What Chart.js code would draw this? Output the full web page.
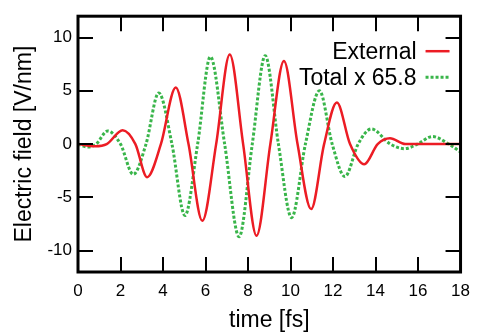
<!DOCTYPE html>
<html>
<head>
<meta charset="utf-8">
<script src="https://cdn.jsdelivr.net/npm/chart.js@4.4.1/dist/chart.umd.min.js"></script>
<style>
  html, body { margin: 0; padding: 0; background: #fff; }
  #wrap { width: 479px; height: 334px; }
</style>
</head>
<body>
<div id="wrap"><canvas id="chart" width="479" height="334"></canvas></div>
<script>
// time [fs] and field [V/nm] at extrema and zero crossings
const externalT = [0, 0.8, 1.35, 2.1, 2.7, 3.25, 3.9, 4.6, 5.2, 5.85, 6.5, 7.14, 7.77, 8.4, 9.05, 9.69, 10.33, 10.97, 11.58, 12.18, 12.8, 13.47, 14.1, 14.68, 15.4, 16.0, 18];
const externalE = [0, -0.2, 0, 1.3, 0, -3.1, 0, 5.3, 0, -7.2, 0, 8.4, 0, -8.6, 0, 7.8, 0, -6.1, 0, 3.9, 0, -1.9, 0, 0.55, 0, 0, 0];

const totalT = [0, 0.46, 0.85, 1.4, 2.0, 2.6, 3.2, 3.8, 4.42, 5.03, 5.63, 6.23, 6.9, 7.58, 8.2, 8.81, 9.43, 10.05, 10.7, 11.36, 11.96, 12.56, 13.18, 13.8, 14.7, 15.37, 15.97, 16.68, 17.45, 18];
const totalE = [0, -0.28, 0, 1.23, 0, -2.84, 0, 4.8, 0, -6.7, 0, 8.2, 0, -8.7, 0, 8.3, 0, -6.9, 0, 5.0, 0, -3.05, 0, 1.42, 0, -0.43, 0, 0.71, 0, -0.75];

const xTicks = [0, 2, 4, 6, 8, 10, 12, 14, 16, 18];
const yTicks = [-10, -5, 0, 5, 10];

Chart.defaults.font.family = "'Liberation Sans', Arial, Helvetica, sans-serif";
Chart.defaults.color = '#000';

function toPoints(xs, ys) {
  return xs.map((x, i) => ({ x: x, y: ys[i] }));
}

// frame and inward tick marks on all four sides
const framePlugin = {
  id: 'frame',
  afterDatasetsDraw(chart) {
    const { ctx, chartArea: a, scales } = chart;
    const len = 15;
    ctx.save();
    ctx.strokeStyle = '#000';
    ctx.lineWidth = 2;
    ctx.beginPath();
    xTicks.forEach(v => {
      const px = Math.round(scales.x.getPixelForValue(v));
      ctx.moveTo(px, a.bottom); ctx.lineTo(px, a.bottom - len);
      ctx.moveTo(px, a.top); ctx.lineTo(px, a.top + len);
    });
    yTicks.forEach(v => {
      const py = Math.round(scales.y.getPixelForValue(v));
      ctx.moveTo(a.left, py); ctx.lineTo(a.left + len, py);
      ctx.moveTo(a.right, py); ctx.lineTo(a.right - len, py);
    });
    ctx.stroke();
    ctx.lineWidth = 3;
    ctx.strokeRect(a.left, a.top, a.right - a.left, a.bottom - a.top);
    ctx.restore();
  }
};

// legend in the top right corner, text first then the line sample
const legendPlugin = {
  id: 'cornerLegend',
  afterDraw(chart) {
    const { ctx, chartArea: a } = chart;
    ctx.save();
    ctx.font = "23px 'Liberation Sans', Arial, Helvetica, sans-serif";
    ctx.textAlign = 'right';
    ctx.textBaseline = 'alphabetic';
    chart.data.datasets.forEach((ds, i) => {
      const base = a.top + 43 + i * 26;
      ctx.fillStyle = '#000';
      ctx.fillText(ds.label, a.right - 44, base);
      ctx.strokeStyle = ds.borderColor;
      ctx.lineWidth = ds.borderWidth;
      ctx.setLineDash(ds.borderDash || []);
      ctx.beginPath();
      ctx.moveTo(a.right - 35, base - 8);
      ctx.lineTo(a.right - 11, base - 8);
      ctx.stroke();
    });
    ctx.restore();
  }
};

new Chart(document.getElementById('chart'), {
  type: 'line',
  data: {
    datasets: [
      {
        label: 'External',
        data: toPoints(externalT, externalE),
        borderColor: '#ec1c24',
        borderWidth: 2.5,
        pointRadius: 0,
        cubicInterpolationMode: 'monotone',
        fill: false
      },
      {
        label: 'Total x 65.8',
        data: toPoints(totalT, totalE),
        borderColor: '#39b54a',
        borderWidth: 3,
        borderDash: [3, 2],
        pointRadius: 0,
        cubicInterpolationMode: 'monotone',
        fill: false
      }
    ]
  },
  options: {
    responsive: false,
    animation: false,
    layout: { padding: { top: 11, right: 12, left: 0, bottom: 0 } },
    plugins: { legend: { display: false }, tooltip: { enabled: false } },
    scales: {
      x: {
        type: 'linear',
        min: 0,
        max: 18,
        afterBuildTicks: s => { s.ticks = xTicks.map(v => ({ value: v })); },
        afterFit: s => { s.height = 62; },
        grid: { display: false, drawTicks: false },
        border: { display: false },
        ticks: { font: { size: 17 }, padding: 9, maxRotation: 0 },
        title: { display: true, text: 'time [fs]', font: { size: 23 }, padding: { top: 0, bottom: 0 } }
      },
      y: {
        type: 'linear',
        min: -12,
        max: 12,
        afterBuildTicks: s => { s.ticks = yTicks.map(v => ({ value: v })); },
        afterFit: s => { s.width = 78; },
        grid: { display: false, drawTicks: false },
        border: { display: false },
        ticks: { font: { size: 17 }, padding: 6 },
        title: { display: true, text: 'Electric field [V/nm]', font: { size: 23 }, padding: { top: 11, bottom: 0 } }
      }
    }
  },
  plugins: [framePlugin, legendPlugin]
});
</script>
</body>
</html>
